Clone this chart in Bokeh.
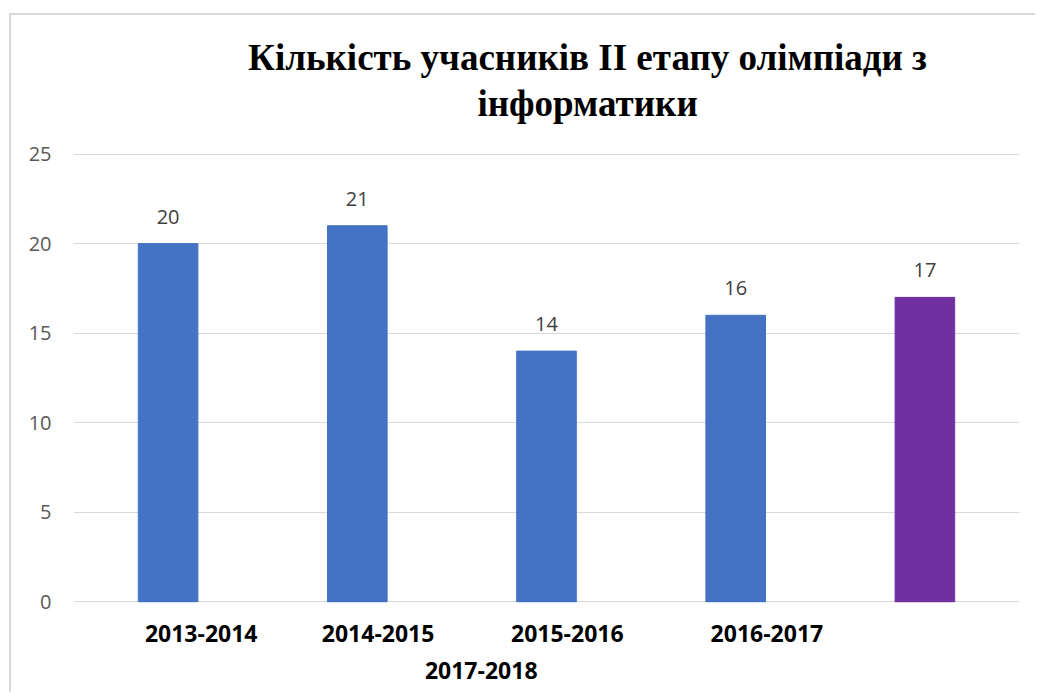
from bokeh.plotting import figure
from bokeh.models import (ColumnDataSource, LabelSet, FixedTicker, Range1d, LinearAxis)
from bokeh.core.properties import value
from bokeh.embed import file_html
from bokeh.resources import INLINE

categories = ["2013-2014", "2014-2015", "2015-2016", "2016-2017", "2017-2018"]
values = [20, 21, 14, 16, 17]
bar_colors = ["#4472C4", "#4472C4", "#4472C4", "#4472C4", "#7030A0"]
y_ticks = [0, 5, 10, 15, 20, 25]
title_text = "Кількість учасників ІІ етапу олімпіади з\nінформатики"

# label placement style: shift of each category label from its bar (in bar slots),
# reproducing the original's wrapped category axis (last label on a second row)
label_shift = [0.175, 0.11, 0.11, 0.165, -2.345]
label_row = [1, 1, 1, 1, 2]
title_shift = 2.217  # horizontal centre of the title block (in bar slots)

xs = list(range(len(categories)))
src = ColumnDataSource(dict(x=xs, top=values, color=bar_colors,
                            lbl=[str(v) for v in values]))

p = figure(width=1026, height=679, output_backend="svg", toolbar_location=None,
           x_range=Range1d(-0.5, len(categories) - 0.5), y_range=Range1d(-0.03, 25.03),
           min_border_left=62, min_border_right=18, min_border_top=138, min_border_bottom=92,
           x_axis_location=None)
p.styles = {"margin-left": "9px", "margin-top": "13px",
            "border-left": "2px solid #d9d9d9", "border-top": "2px solid #d9d9d9"}
p.outline_line_color = None

p.vbar(x="x", top="top", bottom=0, width=0.315, color="color", source=src)

# data labels
p.add_layout(LabelSet(x="x", y="top", text="lbl", source=src, text_align="center",
                      text_baseline="bottom", y_offset=20, text_font=value("Open Sans"),
                      text_font_size="20px", text_color="#404040"))


def bare_axis(ticks, overrides, standoff, font, size, style="bold", color="#000000"):
    ax = LinearAxis(ticker=FixedTicker(ticks=ticks), major_label_overrides=overrides)
    ax.axis_line_color = None
    ax.major_tick_line_color = None
    ax.minor_tick_line_color = None
    ax.major_tick_out = 0
    ax.major_tick_in = 0
    ax.major_label_standoff = standoff
    ax.major_label_text_font = font
    ax.major_label_text_font_size = size
    ax.major_label_text_font_style = style
    ax.major_label_text_color = color
    return ax


# category axes (two rows)
for row in (1, 2):
    ticks, overrides = [], {}
    for i, cat in enumerate(categories):
        if label_row[i] == row:
            t = round(xs[i] + label_shift[i], 4)
            ticks.append(t)
            overrides[t] = cat
    p.add_layout(bare_axis(ticks, overrides, 22 if row == 1 else 17,
                           "Open Sans", "23px"), "below")

# title, as centred two-line text above the frame
tax = bare_axis([title_shift], {title_shift: title_text}, 30, "Liberation Serif", "37px")
tax.major_label_text_line_height = 1.1
tax.major_label_text_align = "center"
p.add_layout(tax, "above")

p.xgrid.grid_line_color = None
p.ygrid.grid_line_color = "#d9d9d9"
p.ygrid.grid_line_width = 1
p.yaxis.ticker = FixedTicker(ticks=y_ticks)
p.yaxis.axis_line_color = None
p.yaxis.major_tick_line_color = None
p.yaxis.minor_tick_line_color = None
p.yaxis.major_tick_out = 0
p.yaxis.major_label_standoff = 22
p.yaxis.major_label_text_font = "Open Sans"
p.yaxis.major_label_text_font_size = "20px"
p.yaxis.major_label_text_color = "#595959"
p.yaxis.major_label_text_font_style = "normal"

open("out.html", "w").write(file_html(p, INLINE))
